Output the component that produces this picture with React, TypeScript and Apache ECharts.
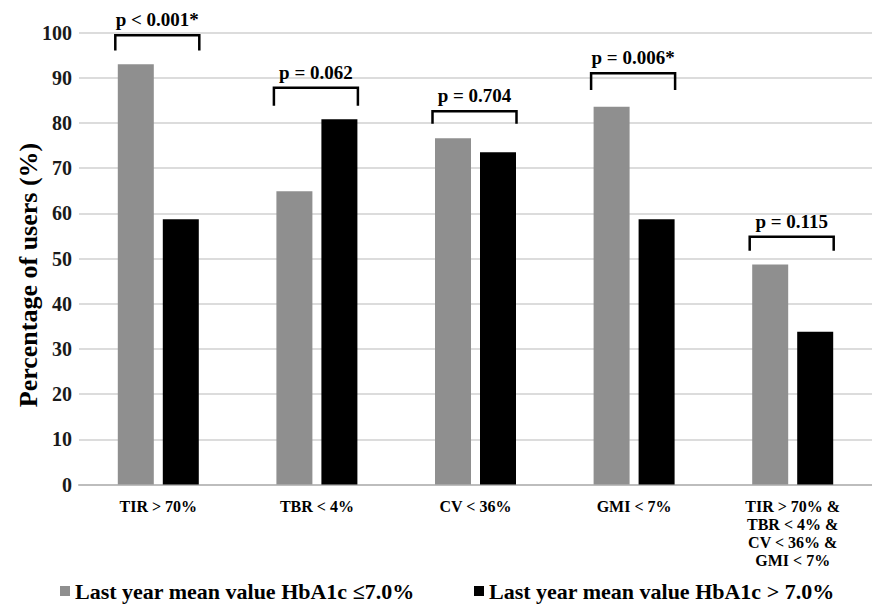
import React, { useEffect, useRef } from "react";
import * as echarts from "echarts";

const categories = ["TIR > 70%", "TBR < 4%", "CV < 36%", "GMI < 7%", "TIR > 70% &\nTBR < 4% &\nCV < 36% &\nGMI < 7%"];
const seriesNames = ["Last year mean value HbA1c \u22647.0%", "Last year mean value HbA1c > 7.0%"];
const lowHbA1c = [93.0, 64.9, 76.6, 83.6, 48.7];
const highHbA1c = [58.7, 80.8, 73.5, 58.7, 33.8];
const pLabels = ["p < 0.001*", "p = 0.062", "p = 0.704", "p = 0.006*", "p = 0.115"];
const bracketTop = [99.4, 87.8, 82.6, 91.0, 54.8];
const bracketBottom = [96.0, 83.8, 79.8, 87.3, 51.7];
const yTicks = [0, 100, 10];

const SERIF = "Liberation Serif, Times New Roman, serif";

export default function App() {
  const ref = useRef<HTMLDivElement>(null);
  useEffect(() => {
    document.body.style.margin = "0";
    const chart = echarts.init(ref.current!, null, { renderer: "svg" });
    const bracketData = categories.map((_, i) => [i, bracketTop[i], bracketBottom[i]]);
    const legendText = { color: "#000", fontFamily: SERIF, fontWeight: "bold", fontSize: 22 };
    chart.setOption({
      animation: false,
      backgroundColor: "#ffffff",
      grid: { left: 79, width: 795, top: 32.5, height: 452 },
      xAxis: {
        type: "category",
        data: categories,
        axisTick: { show: false },
        axisLine: { lineStyle: { color: "#bdbdbd", width: 2 } },
        axisLabel: {
          interval: 0,
          margin: 13,
          color: "#000",
          fontFamily: SERIF,
          fontWeight: "bold",
          fontSize: 16,
          lineHeight: 18,
        },
      },
      yAxis: {
        type: "value",
        min: yTicks[0],
        max: yTicks[1],
        interval: yTicks[2],
        axisLine: { show: false },
        axisTick: { show: false },
        splitLine: { lineStyle: { color: "#dcdcdc", width: 2 } },
        axisLabel: {
          margin: 7,
          color: "#1a1a1a",
          fontFamily: SERIF,
          fontWeight: "bold",
          fontSize: 20,
        },
      },
      legend: [
        {
          data: [seriesNames[0]],
          left: 60,
          top: 580,
          icon: "rect",
          itemWidth: 10,
          itemHeight: 10,
          padding: 0,
          textStyle: legendText,
        },
        {
          data: [seriesNames[1]],
          left: 474,
          top: 580,
          icon: "rect",
          itemWidth: 10,
          itemHeight: 10,
          padding: 0,
          textStyle: legendText,
        },
      ],
      graphic: [
        {
          type: "text",
          x: 28,
          y: 275,
          rotation: Math.PI / 2,
          style: {
            text: "Percentage of users (%)",
            font: `bold 26px ${SERIF}`,
            fill: "#000",
            textAlign: "center",
            textVerticalAlign: "middle",
          },
        },
      ],
      series: [
        {
          name: seriesNames[0],
          type: "bar",
          data: lowHbA1c,
          barWidth: 36,
          barGap: "25%",
          itemStyle: { color: "#8f8f8f" },
        },
        {
          name: seriesNames[1],
          type: "bar",
          data: highHbA1c,
          barWidth: 36,
          itemStyle: { color: "#000000" },
        },
        {
          type: "custom",
          silent: true,
          z: 10,
          data: bracketData,
          renderItem: (params: any, api: any) => {
            const cat = api.value(0);
            const top = api.coord([cat, api.value(1)]);
            const bot = api.coord([cat, api.value(2)]);
            const cx = top[0] - 1;
            const hw = 42;
            return {
              type: "group",
              children: [
                {
                  type: "polyline",
                  shape: {
                    points: [
                      [cx - hw, bot[1]],
                      [cx - hw, top[1]],
                      [cx + hw, top[1]],
                      [cx + hw, bot[1]],
                    ],
                  },
                  style: { stroke: "#000", lineWidth: 2.5, fill: "none" },
                },
                {
                  type: "text",
                  x: cx,
                  y: top[1] - 6,
                  style: {
                    text: pLabels[params.dataIndex],
                    font: `bold 19px ${SERIF}`,
                    fill: "#000",
                    align: "center",
                    verticalAlign: "bottom",
                  },
                },
              ],
            };
          },
        },
      ],
    });
    return () => chart.dispose();
  }, []);
  return <div ref={ref} style={{ width: 872, height: 605 }} />;
}
